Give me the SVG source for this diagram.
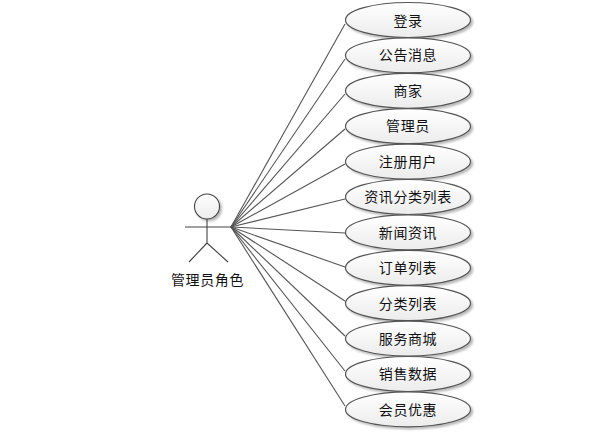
<svg xmlns="http://www.w3.org/2000/svg" width="606" height="441" viewBox="0 0 606 441">
<defs>
<linearGradient id="g" x1="0" y1="0" x2="0" y2="1"><stop offset="0" stop-color="#ffffff"/><stop offset="1" stop-color="#ececec"/></linearGradient>
<filter id="s" x="-10%" y="-20%" width="125%" height="150%"><feDropShadow dx="2" dy="2" stdDeviation="1.2" flood-color="#000" flood-opacity="0.28"/></filter>
</defs>
<style>
.e{fill:url(#g);stroke:#555;stroke-width:1.2;filter:url(#s)}
.t{font-family:"Noto Sans CJK SC","Liberation Sans",sans-serif;font-size:14px;fill:#111;text-anchor:middle;letter-spacing:.6px}
.c{fill:none;stroke:#555;stroke-width:1.1}
.a{fill:none;stroke:#444;stroke-width:1.1}
</style>
<rect width="606" height="441" fill="#fff"/>
<g id="connectors">
<path class="c" d="M231 227L345 24"/>
<path class="c" d="M231 227L345 59"/>
<path class="c" d="M231 227L345 94"/>
<path class="c" d="M231 227L345 129"/>
<path class="c" d="M231 227L345 164"/>
<path class="c" d="M231 227L345 199"/>
<path class="c" d="M231 227L345 233"/>
<path class="c" d="M231 227L345 267"/>
<path class="c" d="M231 227L345 301"/>
<path class="c" d="M231 227L345 336"/>
<path class="c" d="M231 227L345 371"/>
<path class="c" d="M231 227L345 406"/>
</g>
<g id="actor">
<circle cx="207" cy="206.500" r="12.500" fill="url(#g)" stroke="#444" stroke-width="1.1" filter="url(#s)"/>
<path class="a" d="M207 219V243M185 227H231M207 243L189 262M207 243L228 262"/>
<text class="t" x="207.500" y="285">管理员角色</text>
</g>
<g id="n1"><ellipse class="e" cx="408" cy="20" rx="62.500" ry="17.500"/><text class="t" x="408" y="25.500">登录</text></g>
<g id="n2"><ellipse class="e" cx="408" cy="55.400" rx="62.500" ry="17.500"/><text class="t" x="408" y="60">公告消息</text></g>
<g id="n3"><ellipse class="e" cx="408" cy="90.800" rx="62.500" ry="17.500"/><text class="t" x="408" y="96">商家</text></g>
<g id="n4"><ellipse class="e" cx="408" cy="126.200" rx="62.500" ry="17.500"/><text class="t" x="408" y="131">管理员</text></g>
<g id="n5"><ellipse class="e" cx="408" cy="161.600" rx="62.500" ry="17.500"/><text class="t" x="408" y="167">注册用户</text></g>
<g id="n6"><ellipse class="e" cx="408" cy="197" rx="62.500" ry="17.500"/><text class="t" x="408" y="202">资讯分类列表</text></g>
<g id="n7"><ellipse class="e" cx="408" cy="232.400" rx="62.500" ry="17.500"/><text class="t" x="408" y="238">新闻资讯</text></g>
<g id="n8"><ellipse class="e" cx="408" cy="267.800" rx="62.500" ry="17.500"/><text class="t" x="408" y="273">订单列表</text></g>
<g id="n9"><ellipse class="e" cx="408" cy="303.200" rx="62.500" ry="17.500"/><text class="t" x="408" y="309">分类列表</text></g>
<g id="n10"><ellipse class="e" cx="408" cy="338.600" rx="62.500" ry="17.500"/><text class="t" x="408" y="344">服务商城</text></g>
<g id="n11"><ellipse class="e" cx="408" cy="374" rx="62.500" ry="17.500"/><text class="t" x="408" y="379">销售数据</text></g>
<g id="n12"><ellipse class="e" cx="408" cy="409.400" rx="62.500" ry="17.500"/><text class="t" x="408" y="415">会员优惠</text></g>
</svg>
